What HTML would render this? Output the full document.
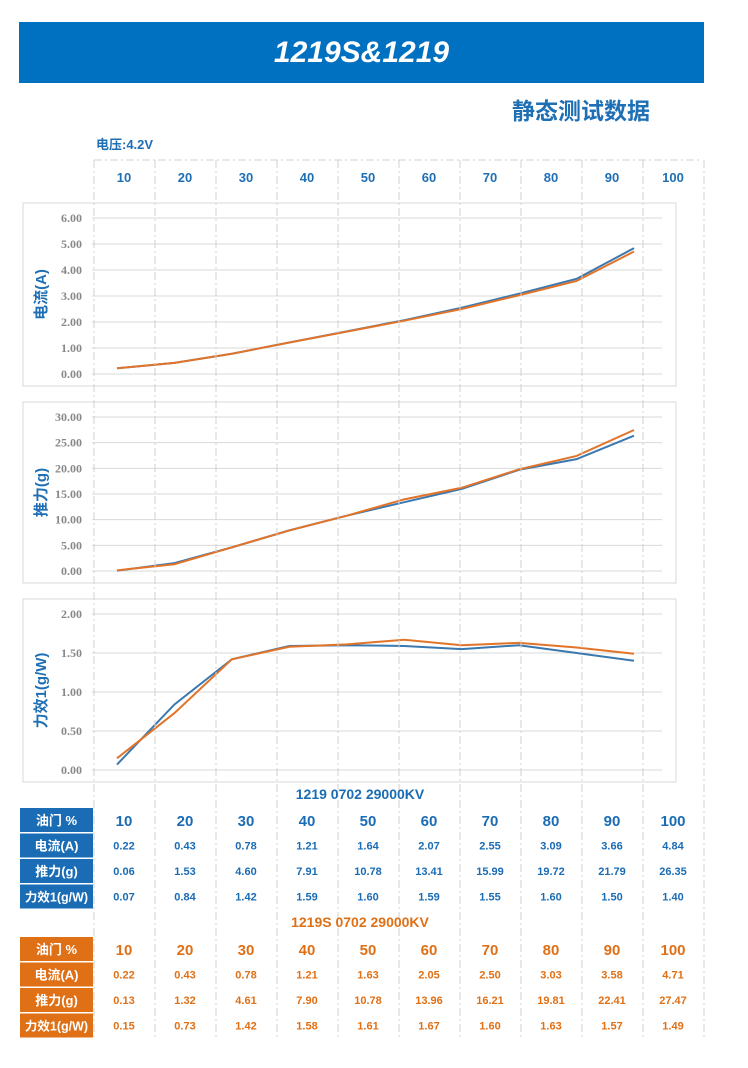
<!DOCTYPE html>
<html><head><meta charset="utf-8"><style>
body{margin:0;width:748px;height:1068px;background:#fff;position:relative;font-family:"Liberation Sans","Noto Sans CJK SC",sans-serif;overflow:hidden}
.a{position:absolute}
</style></head><body>
<div class="a" style="left:19px;top:22px;width:685px;height:61px;background:#0070c0;color:#fff;font-size:30px;font-weight:bold;font-style:italic;text-align:center;line-height:61px">1219S&amp;1219</div>
<div class="a" style="left:512px;top:92px;font-size:23px;font-weight:bold;color:#1f6fb5">静态测试数据</div>
<div class="a" style="left:96px;top:134px;font-size:13px;font-weight:bold;color:#1f6fb5">电压:4.2V</div>
<svg class="a" id="svg" style="left:0;top:0" width="748" height="1068"></svg>
<script>
const throttle=[10,20,30,40,50,60,70,80,90,100];
const curA=[0.22,0.43,0.78,1.21,1.64,2.07,2.55,3.09,3.66,4.84];
const thrA=[0.06,1.53,4.60,7.91,10.78,13.41,15.99,19.72,21.79,26.35];
const effA=[0.07,0.84,1.42,1.59,1.60,1.59,1.55,1.60,1.50,1.40];
const curB=[0.22,0.43,0.78,1.21,1.63,2.05,2.50,3.03,3.58,4.71];
const thrB=[0.13,1.32,4.61,7.90,10.78,13.96,16.21,19.81,22.41,27.47];
const effB=[0.15,0.73,1.42,1.58,1.61,1.67,1.60,1.63,1.57,1.49];
const ticks1=[0,1,2,3,4,5,6], ticks2=[0,5,10,15,20,25,30], ticks3=[0,0.5,1,1.5,2];
const BLUE='#3a78b0',ORANGE='#e2742a';
const svg=document.getElementById('svg');
const NS='http://www.w3.org/2000/svg';
function mk(t,a,p){const e=document.createElementNS(NS,t);for(const k in a)e.setAttribute(k,a[k]);(p||svg).appendChild(e);return e;}
throttle.forEach((v,i)=>{const t=mk('text',{x:124+61*i,y:182,'text-anchor':'middle','font-size':13,'font-weight':'bold',fill:'#1f6fb5'});t.textContent=v;
});
const xs=i=>117+(634-117)*i/9;
function panel(top,bot,y0,ymax,ticks,fmt,title,sA,sB,name){
  const r=mk('rect',{x:23,y:top,width:653,height:bot-top,fill:'none',stroke:'#d9d9d9'});
  
  const ytop=top+15,yb=bot-12;
  const ys=v=>yb-(yb-ytop)*v/ymax;
  ticks.forEach(v=>{mk('line',{x1:92,x2:662,y1:ys(v),y2:ys(v),stroke:'#d9d9d9'});
    const t=mk('text',{x:82,y:ys(v)+4,'text-anchor':'end','font-size':12,'font-weight':'bold',fill:'#888','font-family':'Liberation Serif,serif'});t.textContent=v.toFixed(2);
    });
  const tt=mk('text',{transform:`translate(46,${(top+bot)/2}) rotate(-90)`,'text-anchor':'middle','font-size':15,'font-weight':'bold',fill:'#1f6fb5'});tt.textContent=title;
  
  [[sA,BLUE,'series-1219'],[sB,ORANGE,'series-1219s']].forEach(([s,c,n])=>{
    const p=mk('polyline',{points:s.map((v,i)=>xs(i)+','+ys(v)).join(' '),fill:'none',stroke:c,'stroke-width':2});
    });
}
panel(203,386,0,6,ticks1,2,'电流(A)',curA,curB,'current-chart');
panel(402,583,0,30,ticks2,2,'推力(g)',thrA,thrB,'thrust-chart');
panel(599,782,0,2,ticks3,2,'力效1(g/W)',effA,effB,'efficiency-chart');
mk('line',{x1:94,x2:702,y1:160,y2:160,stroke:'#d0d0d0','stroke-dasharray':'8,3,2,3'});
for(let i=0;i<11;i++){mk('line',{x1:94+61*i,x2:94+61*i,y1:160,y2:1040,stroke:'#d0d0d0','stroke-dasharray':'8,3,2,3'});}
function table(top,titleY,title,color,rows,name){
  const t=mk('text',{x:360,y:titleY,'text-anchor':'middle','font-size':14,'font-weight':'bold',fill:color});t.textContent=title;
  
  const labels=['油门 %','电流(A)','推力(g)','力效1(g/W)'];
  rows.forEach((row,r)=>{const y=top+r*25.5;
    const rc=mk('rect',{x:20,y:y,width:73,height:24,fill:color});
    
    const l=mk('text',{x:56.5,y:y+17,'text-anchor':'middle','font-size':r==3?12.5:13,'font-weight':'bold',fill:'#fff'});l.textContent=labels[r];
    
    row.forEach((v,i)=>{const c=mk('text',{x:124+61*i,y:y+(r==0?18:16),'text-anchor':'middle','font-size':r==0?15:11,'font-weight':'bold',fill:color});
      c.textContent=r==0?v:v.toFixed(2);
      });
  });
}
table(808,799,'1219 0702 29000KV','#1a6cb5',[throttle,curA,thrA,effA],'table-1219');
table(937,927,'1219S 0702 29000KV','#e07016',[throttle,curB,thrB,effB],'table-1219s');
</script>
</body></html>
